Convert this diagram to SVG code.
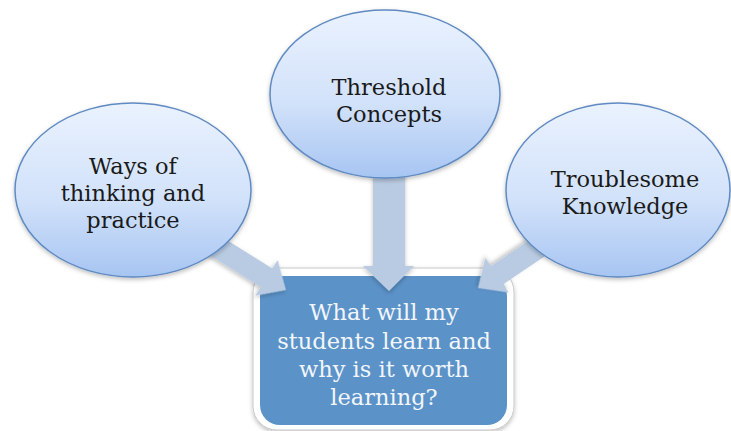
<svg xmlns="http://www.w3.org/2000/svg" width="731" height="431" viewBox="0 0 731 431">
<defs>
<linearGradient id="eg" x1="0" y1="0" x2="0" y2="1">
<stop offset="0" stop-color="#eaf2fe"/>
<stop offset="0.55" stop-color="#d2e2fa"/>
<stop offset="1" stop-color="#a7c5f2"/>
</linearGradient>
<filter id="sh" x="-10%" y="-10%" width="120%" height="125%">
<feDropShadow dx="0" dy="2" stdDeviation="2" flood-color="#000" flood-opacity="0.25"/>
</filter>
</defs>
<style>
.ell{fill:url(#eg);stroke:#5f8ac2;stroke-width:1.5;filter:url(#sh)}
.t{font-family:"DejaVu Serif","Liberation Serif",serif;font-size:22.5px;fill:#1a1a1a;text-anchor:middle}
.bt{font-family:"DejaVu Serif","Liberation Serif",serif;font-size:22.5px;fill:#f2f6fa;text-anchor:middle}
.arr{fill:#b9cbe2;filter:url(#sh)}
</style>
<rect width="731" height="431" fill="#ffffff"/>
<g id="box">
<rect x="253" y="268" width="261" height="162" rx="24" fill="#ffffff" stroke="#c8c8c8" stroke-width="1" filter="url(#sh)"/>
<rect x="260" y="276" width="247" height="149" rx="20" fill="#5b92c8"/>
<text class="bt" x="384" y="320">What will my</text>
<text class="bt" x="384" y="349">students learn and</text>
<text class="bt" x="384" y="377">why is it worth</text>
<text class="bt" x="384" y="405">learning?</text>
</g>
<g id="connectors">
<polygon class="arr" points="373,170 405,170 405,266 414,266 389,291 363,266 373,266"/>
<polygon class="arr" transform="translate(286,290) rotate(32)" points="0,0 -23,-21 -23,-11 -100,-11 -100,11 -23,11 -23,21"/>
<polygon class="arr" transform="translate(478,288) rotate(146)" points="0,0 -23,-21 -23,-11 -100,-11 -100,11 -23,11 -23,21"/>
</g>
<g id="ways">
<ellipse class="ell" cx="133" cy="190" rx="118" ry="87"/>
<text class="t" x="133" y="174">Ways of</text>
<text class="t" x="133" y="201">thinking and</text>
<text class="t" x="133" y="228">practice</text>
</g>
<g id="threshold">
<ellipse class="ell" cx="385" cy="94" rx="115" ry="84"/>
<text class="t" x="389" y="95">Threshold</text>
<text class="t" x="389" y="122">Concepts</text>
</g>
<g id="troublesome">
<ellipse class="ell" cx="618" cy="190" rx="112" ry="87"/>
<text class="t" x="625" y="187">Troublesome</text>
<text class="t" x="625" y="214">Knowledge</text>
</g>
</svg>
